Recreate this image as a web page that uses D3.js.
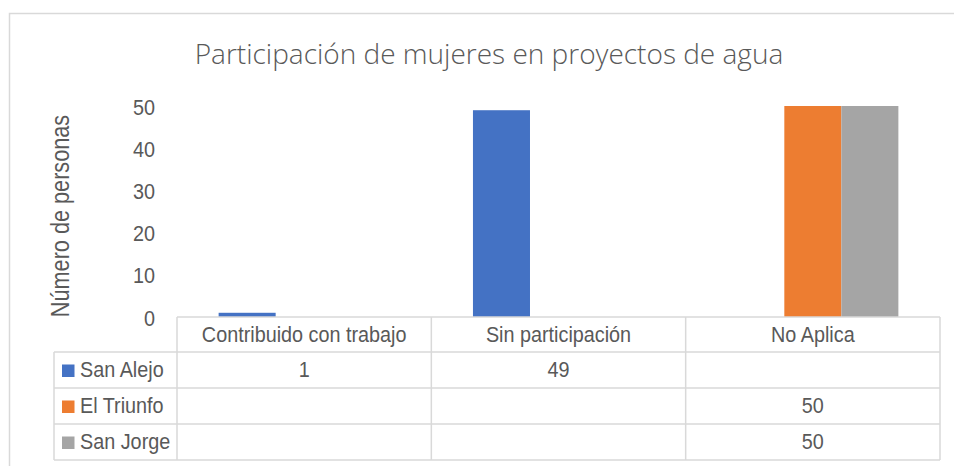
<!DOCTYPE html>
<html><head><meta charset="utf-8">
<script src="https://cdn.jsdelivr.net/npm/d3@7"></script>
<style>
html,body{margin:0;padding:0;background:#fff;}
svg{display:block;}
</style></head>
<body>
<svg id="chart" width="954" height="466"></svg>
<script>
const categories = ["Contribuido con trabajo", "Sin participación", "No Aplica"];
const seriesNames = ["San Alejo", "El Triunfo", "San Jorge"];
const sanAlejo = [1, 49, null];
const elTriunfo = [null, null, 50];
const sanJorge = [null, null, 50];
const colors = ["#4472c4", "#ed7d31", "#a5a5a5"];
const yTicks = [0, 10, 20, 30, 40, 50];
const title = "Participación de mujeres en proyectos de agua";
const yTitle = "Número de personas";

(function () {
const seriesValues = [sanAlejo, elTriunfo, sanJorge];
const svg = d3.select("#chart");
const sans = "'Liberation Sans',Arial,sans-serif";
const textCol = "#595959";
const gridCol = "#d9d9d9";
const FS = 22.5, SX = 0.88;

function addText(parent, x, y, str, fs, anchor, sx, rot) {
  return parent.append("text")
    .attr("transform", `translate(${x},${y})${rot ? ` rotate(${rot})` : ""} scale(${sx},1)`)
    .attr("text-anchor", anchor).attr("font-family", sans).attr("font-size", fs)
    .attr("fill", textCol).text(str);
}

svg.append("path").attr("d", "M9.5,466 V13.5 H954").attr("fill", "none").attr("stroke", "#d9d9d9").attr("stroke-width", 1.5);

const pLeft = 177, pRight = 940, pTop = 106, pBottom = 317;
const x = d3.scaleBand().domain(categories).range([pLeft, pRight]).paddingInner(0).paddingOuter(0);
const xs = d3.scaleBand().domain(seriesNames).range([0, x.bandwidth()]).paddingInner(0).paddingOuter(0.73);
const y = d3.scaleLinear().domain([0, 50]).range([pBottom, pTop]);

svg.append("text").attr("x", 489).attr("y", 63.5).attr("text-anchor", "middle")
  .attr("font-family", "'Open Sans',sans-serif").attr("font-weight", 300).attr("font-size", 28)
  .attr("fill", textCol).text(title);

// y axis tick labels via d3 axis
const yAxis = d3.axisLeft(y).tickValues(yTicks).tickSize(0).tickPadding(0);
const ya = svg.append("g").attr("transform", `translate(155,0)`).call(yAxis);
ya.select(".domain").remove();
ya.selectAll("text")
  .attr("font-family", sans).attr("font-size", FS).attr("fill", textCol)
  .attr("x", null).attr("dy", null)
  .attr("transform", `translate(0,8) scale(${SX},1)`)
  .attr("text-anchor", "end");

addText(svg, 69, 216, yTitle, 25.5, "middle", 0.85, -90);

seriesNames.forEach((s, si) => {
  svg.append("g").selectAll("rect").data(categories.map((c, ci) => ({c, v: seriesValues[si][ci]})).filter(d => d.v != null))
    .join("rect")
    .attr("x", d => x(d.c) + xs(s)).attr("width", xs.bandwidth())
    .attr("y", d => y(d.v)).attr("height", d => y(0) - y(d.v))
    .attr("fill", colors[si]);
});

const legLeft = 54;
const rowH = 36;
const headerTop = pBottom, headerBot = 352;
const rowTops = seriesNames.map((s, i) => headerBot + i * rowH);
const tableBot = headerBot + seriesNames.length * rowH;
const g = svg.append("g").attr("stroke", gridCol).attr("stroke-width", 1.5).attr("fill", "none");
g.append("line").attr("x1", pLeft).attr("x2", pRight).attr("y1", headerTop).attr("y2", headerTop);
[pLeft, ...categories.map(c => x(c) + x.bandwidth())].forEach(xx => {
  g.append("line").attr("x1", xx).attr("x2", xx).attr("y1", headerTop).attr("y2", tableBot);
});
g.append("line").attr("x1", legLeft).attr("x2", legLeft).attr("y1", headerBot).attr("y2", tableBot);
[headerBot, ...rowTops.map(t => t + rowH)].forEach(yy => {
  g.append("line").attr("x1", legLeft).attr("x2", pRight).attr("y1", yy).attr("y2", yy);
});

categories.forEach(c => addText(svg, x(c) + x.bandwidth() / 2, headerTop + 25, c, FS, "middle", SX));

seriesNames.forEach((s, si) => {
  const ty = rowTops[si];
  svg.append("rect").attr("x", 62).attr("y", ty + 12.5).attr("width", 12.5).attr("height", 12.5).attr("fill", colors[si]);
  addText(svg, 80, ty + 25, s, FS, "start", SX);
  categories.forEach((c, ci) => {
    const v = seriesValues[si][ci];
    if (v == null) return;
    addText(svg, x(c) + x.bandwidth() / 2, ty + 25, v, FS, "middle", SX);
  });
});
})();
</script>
</body></html>
